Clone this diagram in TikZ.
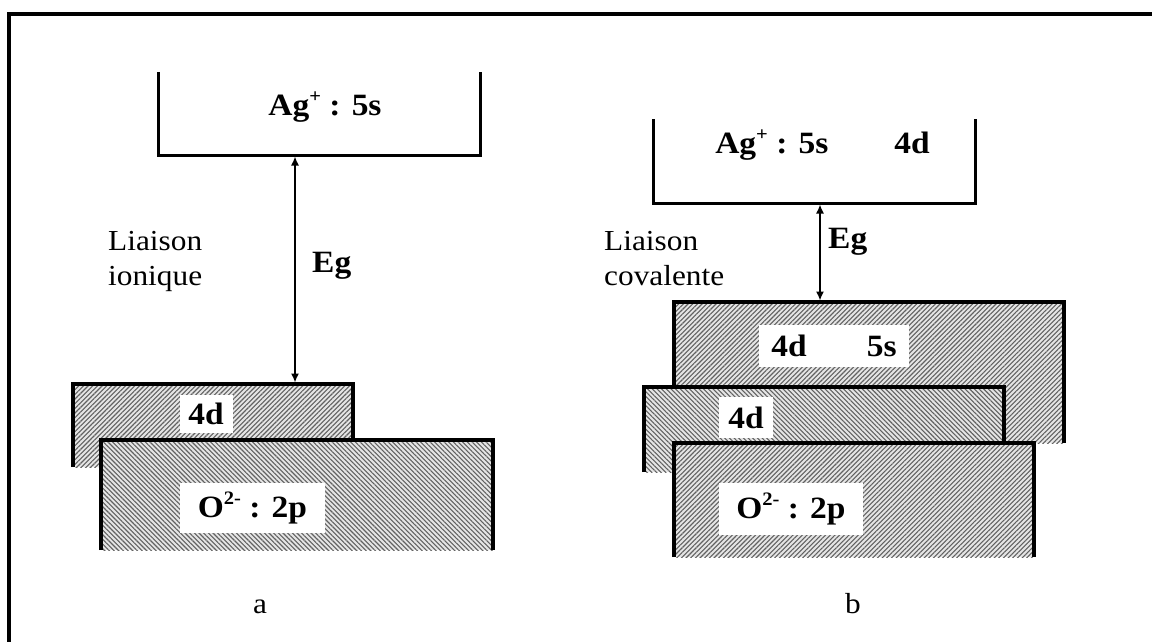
\documentclass[tikz,border=0pt]{standalone}
\usepackage{fontspec}
\setmainfont[FakeStretch=1.08]{Liberation Serif}
\usetikzlibrary{arrows.meta,patterns.meta}
\definecolor{hatchink}{gray}{0.38}
\definecolor{hatchbg}{gray}{0.9}
\tikzset{
  frame/.style={
    line width=4pt,
    line join=miter
  },
  levelline/.style={
    line width=3pt,
    line join=miter
  },
  bandedge/.style={
    line width=3.5pt,
    line join=miter
  },
  emptyband/.style={
    rectangle,
    inner sep=0pt,
    outer sep=0pt
  },
  bandNE/.style={
    emptyband,
    fill=hatchbg,
    postaction={pattern={Lines[angle=45,distance=3.3pt,line width=1.1pt]},pattern color=hatchink}
  },
  bandNW/.style={
    emptyband,
    fill=hatchbg,
    postaction={pattern={Lines[angle=-45,distance=3.3pt,line width=1.1pt]},pattern color=hatchink}
  },
  tag/.style={
    rectangle,
    fill=white,
    inner sep=0pt,
    font=\fontsize{31}{37}\selectfont\bfseries
  },
  boldlabel/.style={
    inner sep=0pt,
    font=\fontsize{31}{37}\selectfont\bfseries
  },
  plainlabel/.style={
    inner sep=0pt,
    font=\fontsize{29}{35}\selectfont
  },
  gaparrow/.style={
    {Latex[length=9pt,width=8pt]}-{Latex[length=9pt,width=8pt]},
    line width=1.5pt
  }
}
% small raised charge
\newcommand{\ioncharge}[1]{\raisebox{0.4em}{\fontsize{19}{19}\selectfont #1}}

\begin{document}
\begin{tikzpicture}[x=1pt,y=-1pt]
  \useasboundingbox (0,0) rectangle (1152,642);

  % frame
  \draw[frame] (9,642) |- (1152,14);

  % a : liaison ionique
  \node[emptyband, minimum width=322pt, minimum height=83pt] (agA) at (319,113.5) {};
  \draw[levelline] (agA.north west) |- (agA.south east) -- (agA.north east);
  \node[boldlabel, anchor=base] (agAtxt) at (325,115) {Ag\ioncharge{+} : 5s};

  \node[bandNE, minimum width=280pt, minimum height=83pt] (dA) at (213,425.5) {};
  \draw[bandedge] (dA.south west) |- (dA.north east) -- (dA.south east);
  \node[tag, minimum width=53pt, minimum height=38pt] (dAtxt) at (206,414) {4d};

  \node[bandNW, minimum width=392pt, minimum height=110pt] (oA) at (297,495) {};
  \draw[bandedge] (oA.south west) |- (oA.north east) -- (oA.south east);
  \node[tag, minimum width=145pt, minimum height=50pt] (oAtxt) at (252.5,508) {O\ioncharge{2-} : 2p};

  \coordinate (egAtop) at (295,156.5);
  \coordinate (egAbot) at (295,382.5);
  \draw[gaparrow] (egAtop) -- (egAbot);
  \node[boldlabel, anchor=base west] (egA) at (312,272) {Eg};

  \node[plainlabel, anchor=base west] (liaA1) at (108,250) {Liaison};
  \node[plainlabel, anchor=base west] (liaA2) at (108,285) {ionique};
  \node[plainlabel, anchor=base] (capA) at (260,613) {a};

  % b : liaison covalente
  \node[emptyband, minimum width=322pt, minimum height=84pt] (agB) at (814,161) {};
  \draw[levelline] (agB.north west) |- (agB.south east) -- (agB.north east);
  \node[boldlabel, anchor=base] (agBtxt) at (822.5,153) {Ag\ioncharge{+} : 5s\hspace{66pt}4d};

  \node[bandNE, minimum width=390pt, minimum height=141pt] (hB) at (869,372.5) {};
  \draw[bandedge] (hB.south west) |- (hB.north east) -- (hB.south east);
  \node[tag, minimum width=150pt, minimum height=42pt] (hBtxt) at (834,346) {4d\hspace{60pt}5s};

  \node[bandNW, minimum width=360pt, minimum height=85pt] (dB) at (824,429.5) {};
  \draw[bandedge] (dB.south west) |- (dB.north east) -- (dB.south east);
  \node[tag, minimum width=54pt, minimum height=41pt] (dBtxt) at (746,417.5) {4d};

  \node[bandNE, minimum width=360pt, minimum height=114pt] (oB) at (854,500) {};
  \draw[bandedge] (oB.south west) |- (oB.north east) -- (oB.south east);
  \node[tag, minimum width=144pt, minimum height=52pt] (oBtxt) at (791,509) {O\ioncharge{2-} : 2p};

  \coordinate (egBtop) at (820,204.5);
  \coordinate (egBbot) at (820,300.5);
  \draw[gaparrow] (egBtop) -- (egBbot);
  \node[boldlabel, anchor=base west] (egB) at (828,248) {Eg};

  \node[plainlabel, anchor=base west] (liaB1) at (604,250) {Liaison};
  \node[plainlabel, anchor=base west] (liaB2) at (604,285) {covalente};
  \node[plainlabel, anchor=base] (capB) at (853,613) {b};
\end{tikzpicture}
\end{document}
